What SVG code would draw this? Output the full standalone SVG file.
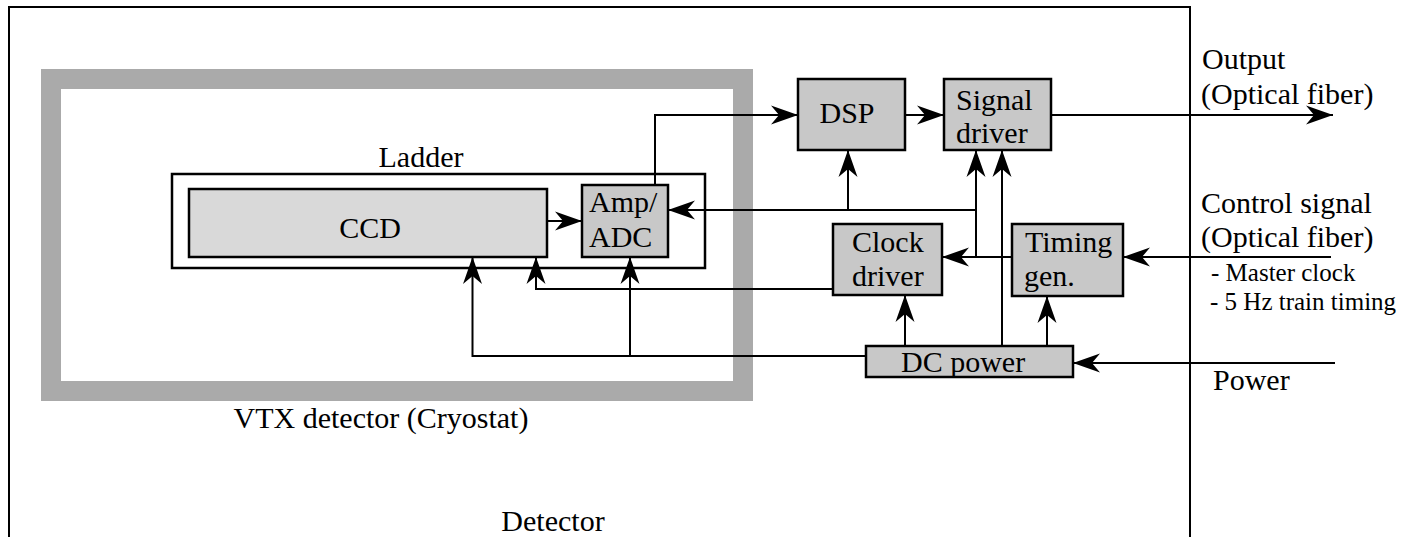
<svg xmlns="http://www.w3.org/2000/svg" width="1408" height="537" viewBox="0 0 1408 537">
<style>
text{font-family:"Liberation Serif","Times New Roman",serif;fill:#000}
.t{font-size:30px}
.s{font-size:25px}
.box{stroke:#000;stroke-width:2.5}
.g{fill:#c8c8c8}
.c{stroke:#000;stroke-width:2;fill:none;marker-end:url(#ah)}
.l{stroke:#000;stroke-width:2;fill:none}
</style>
<defs>
<marker id="ah" markerUnits="userSpaceOnUse" markerWidth="30" markerHeight="24" viewBox="-28 -11 30 22" refX="0" refY="0" orient="auto">
<path d="M0,0 L-27,-9.5 L-19,0 L-27,9.5 Z" fill="#000"/>
</marker>
</defs>
<rect width="1408" height="537" fill="#fff"/>
<g id="detector">
<path class="l" d="M9,537 V7 H1190 V537"/>
<text class="t" x="553" y="531" text-anchor="middle">Detector</text>
</g>
<g id="cryostat">
<rect x="51" y="79" width="692" height="312" fill="none" stroke="#aaaaaa" stroke-width="20"/>
<text class="t" x="381" y="428" text-anchor="middle">VTX detector (Cryostat)</text>
</g>
<g id="ladder">
<rect class="box" x="172" y="174" width="533" height="94" fill="#fff"/>
<text class="t" x="421" y="167" text-anchor="middle">Ladder</text>
</g>
<g id="ccd">
<rect class="box" x="189" y="189" width="358" height="68" fill="#d9d9d9"/>
<text class="t" x="370" y="238" text-anchor="middle">CCD</text>
</g>
<g id="amp">
<rect class="box g" x="582" y="185" width="86" height="72"/>
<text class="t" x="589" y="212">Amp/</text>
<text class="t" x="589" y="247">ADC</text>
</g>
<g id="dsp">
<rect class="box g" x="798" y="79" width="107" height="71"/>
<text class="t" x="847" y="123" text-anchor="middle">DSP</text>
</g>
<g id="signal-driver">
<rect class="box g" x="944" y="79" width="107" height="71"/>
<text class="t" x="956" y="110">Signal</text>
<text class="t" x="956" y="143">driver</text>
</g>
<g id="clock-driver">
<rect class="box g" x="833" y="224" width="109" height="71"/>
<text class="t" x="852" y="252">Clock</text>
<text class="t" x="852" y="286">driver</text>
</g>
<g id="timing-gen">
<rect class="box g" x="1012" y="224" width="111" height="72"/>
<text class="t" x="1025" y="252">Timing</text>
<text class="t" x="1024" y="286">gen.</text>
</g>
<g id="dc-power">
<rect class="box g" x="866" y="346" width="207" height="31"/>
<text class="t" x="901" y="372">DC power</text>
</g>
<g id="labels">
<text class="t" x="1202" y="69">Output</text>
<text class="t" x="1201" y="104">(Optical fiber)</text>
<text class="t" x="1201" y="213">Control signal</text>
<text class="t" x="1201" y="247">(Optical fiber)</text>
<text class="s" x="1211" y="281">- Master clock</text>
<text class="s" x="1210" y="310">- 5 Hz train timing</text>
<text class="t" x="1213" y="390">Power</text>
</g>
<g id="connectors">
<path class="c" d="M655,185 V115 H798"/>
<path class="c" d="M905,115 H944"/>
<path class="c" d="M1051,115 H1333"/>
<path class="c" d="M547,221 H582"/>
<path class="c" d="M1012,257 H942"/>
<path class="c" d="M976,257 V150"/>
<path class="c" d="M976,210 H668"/>
<path class="c" d="M848,210 V150"/>
<path class="c" d="M1002,346 V150"/>
<path class="c" d="M905,346 V295"/>
<path class="c" d="M1047,346 V296"/>
<path class="c" d="M866,356 H472.5 V257"/>
<path class="c" d="M630,356 V257"/>
<path class="c" d="M833,289 H536 V257"/>
<path class="c" d="M1331,257 H1123"/>
<path class="c" d="M1335,363 H1073"/>
</g>
</svg>
